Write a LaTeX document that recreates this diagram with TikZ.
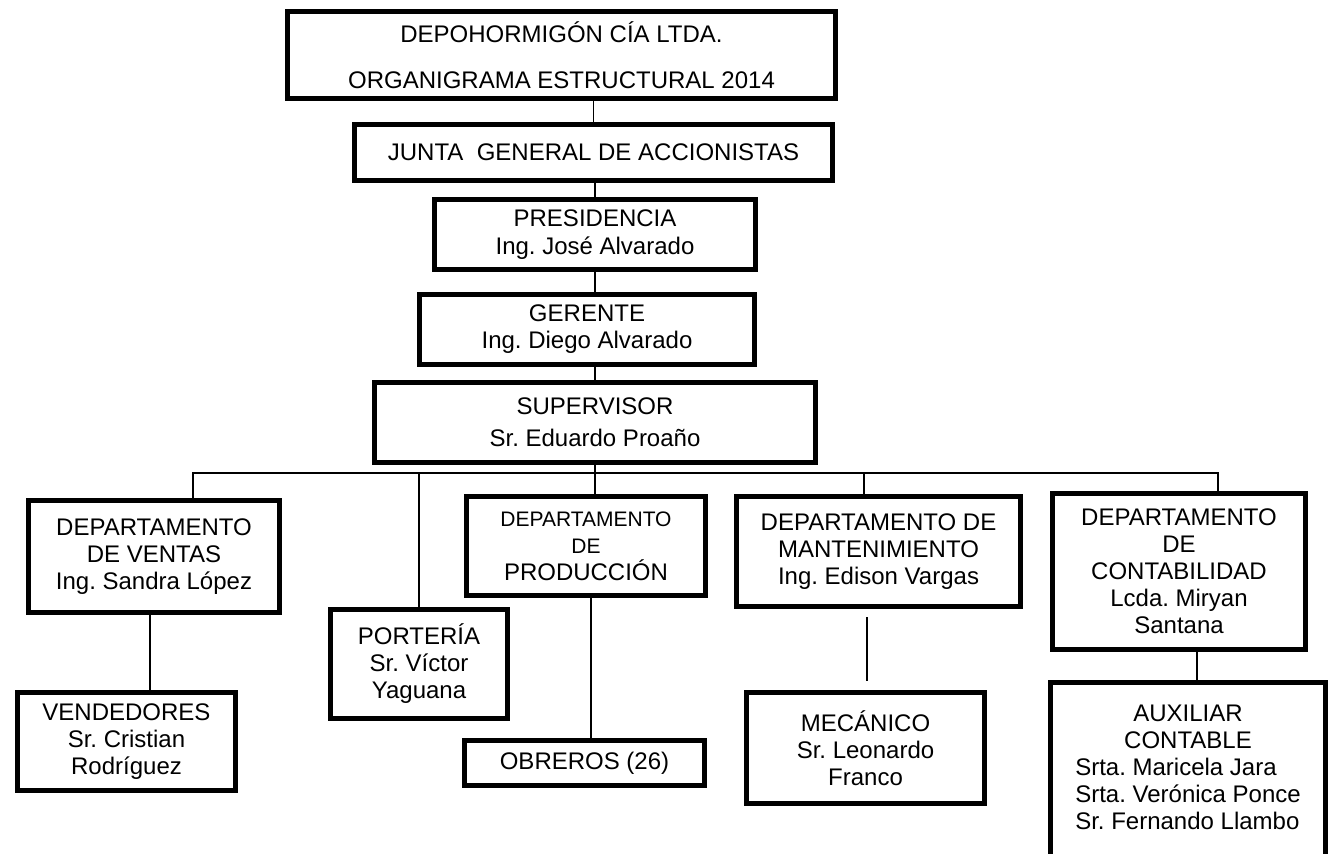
\documentclass[tikz,border=0pt]{standalone}
\usepackage{fontspec}
\setmainfont{Liberation Sans}
\usepackage{tikz}
\usetikzlibrary{positioning}
\frenchspacing

\tikzset{
	caja/.style={draw, line width=2.5pt, align=center, inner sep=1pt, font=\fontsize{12}{13.5}\selectfont},
	enlace/.style={line width=0.8pt},
}
\newcommand{\chico}[1]{{\fontsize{10.5}{13.5}\selectfont #1}}

\begin{document}
\begin{tikzpicture}[x=0.5pt, y=-0.5pt]
		\useasboundingbox (0,0) rectangle (1328,853);

		\node[caja, minimum width=274pt, minimum height=43.5pt, font=\fontsize{12}{23}\selectfont] (titulo) at (561.5,55) {DEPOHORMIGÓN CÍA LTDA.\\ORGANIGRAMA ESTRUCTURAL 2014};
		\node[caja, minimum width=239pt, minimum height=28pt] (junta) [below = 10.5pt of titulo, xshift=16pt] {JUNTA \ GENERAL DE ACCIONISTAS};
		\node[caja, minimum width=160.5pt, minimum height=35pt, font=\fontsize{12}{14}\selectfont] (presidencia) [below = 7pt of junta, xshift=0.75pt] {PRESIDENCIA\\Ing. José Alvarado};
		\node[caja, minimum width=167.5pt, minimum height=35pt] (gerente) [below = 10pt of presidencia, xshift=-4pt] {GERENTE\\Ing. Diego Alvarado};
		\node[caja, minimum width=220.5pt, minimum height=40pt, font=\fontsize{12}{16}\selectfont] (supervisor) [below = 6.5pt of gerente, xshift=4pt] {SUPERVISOR\\Sr. Eduardo Proaño};

		\node[caja, minimum width=125.5pt, minimum height=56pt] (ventas) at (154,556.5) {DEPARTAMENTO\\DE VENTAS\\Ing. Sandra López};
		\node[caja, minimum width=88.5pt, minimum height=54.5pt] (porteria) at (419,664) {PORTERÍA\\Sr. Víctor\\Yaguana};
		\node[caja, minimum width=119.5pt, minimum height=49.5pt] (produccion) at (586,546) {\chico{DEPARTAMENTO}\\\chico{DE}\\PRODUCCIÓN};
		\node[caja, minimum width=142pt, minimum height=55pt] (mantenimiento) at (878.5,551.5) {DEPARTAMENTO DE\\MANTENIMIENTO\\Ing. Edison Vargas};
		\node[caja, minimum width=126.5pt, minimum height=78pt] (contabilidad) at (1179,571.5) {DEPARTAMENTO\\DE\\CONTABILIDAD\\Lcda. Miryan\\Santana};

		\node[caja, minimum width=109pt, minimum height=49pt] (vendedores) [below = 37.5pt of ventas, xshift=-13.75pt] {VENDEDORES\\Sr. Cristian\\Rodríguez};
		\node[caja, minimum width=120pt, minimum height=22.5pt] (obreros) [below = 70pt of produccion, xshift=-0.75pt] {OBREROS (26)};
		\node[caja, minimum width=119pt, minimum height=55.5pt] (mecanico) [below = 40.5pt of mantenimiento, xshift=-6.5pt] {MECÁNICO\\Sr. Leonardo\\Franco};
		\node[caja, minimum width=137.5pt, minimum height=88.5pt] (auxiliar) [below = 14pt of contabilidad, xshift=4.5pt] {AUXILIAR\\CONTABLE\\\begin{tabular}[t]{@{}l@{}}Srta. Maricela Jara\\Srta. Verónica Ponce\\Sr. Fernando Llambo\end{tabular}};

		\coordinate (busizq) at (193,473);
		\coordinate (busder) at (1218,473);

		\draw[enlace] (junta.north) -- (junta.north |- titulo.south);
		\draw[enlace] (presidencia.north) -- (presidencia.north |- junta.south);
		\draw[enlace] (presidencia.south) -- (presidencia.south |- gerente.north);
		\draw[enlace] (supervisor.north) -- (supervisor.north |- gerente.south);
		\draw[enlace] (supervisor.south) -- (supervisor.south |- produccion.north);
		\draw[enlace] (ventas.north -| busizq) -- (busizq) -- (busder) -- (contabilidad.north -| busder);
		\draw[enlace] (porteria.north) -- (porteria.north |- busizq);
		\draw[enlace] ([xshift=-7.25pt]mantenimiento.north) -- ([xshift=-7.25pt]mantenimiento.north |- busizq);

		\draw[enlace] ([xshift=-2pt]ventas.south) -- ([xshift=-2pt]ventas.south |- vendedores.north);
		\draw[enlace] ([xshift=2.5pt]produccion.south) -- ([xshift=2.5pt]produccion.south |- obreros.north);
		\draw[enlace, shorten <=4pt, shorten >=4.5pt] ([xshift=-5.75pt]mantenimiento.south) -- ([xshift=-5.75pt]mantenimiento.south |- mecanico.north);
		\draw[enlace] ([xshift=9pt]contabilidad.south) -- ([xshift=9pt]contabilidad.south |- auxiliar.north);
	\end{tikzpicture}
\end{document}
